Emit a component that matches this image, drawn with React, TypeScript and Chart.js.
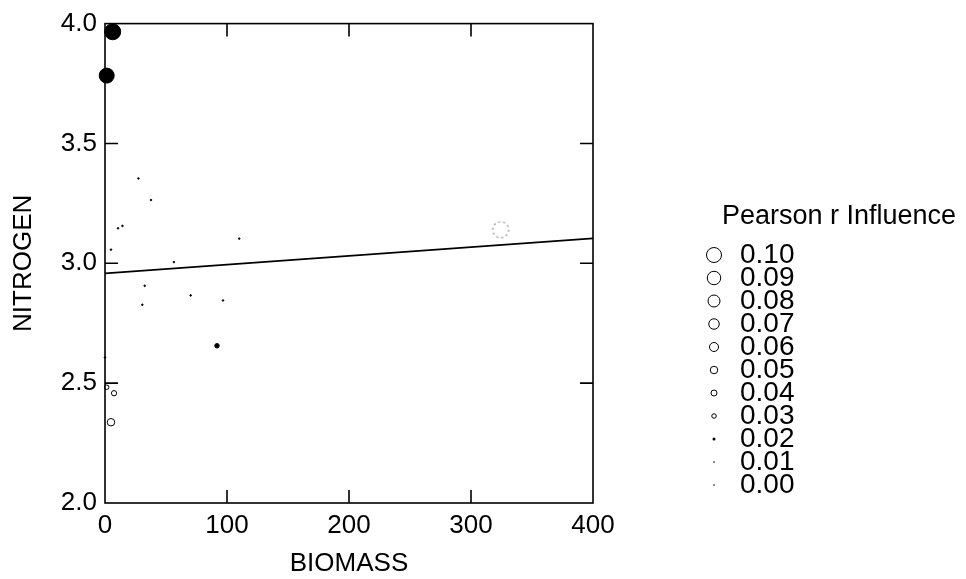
import React, { useEffect, useRef } from "react";
import { Chart, registerables } from "chart.js";

Chart.register(...registerables);

// ---- data ----
const BIOMASS = [6.3, 1.4, 27.4, 37.7, 10.7, 14.3, 4.9, 56.5, 110, 32.5, 70.2, 96.7, 30.6, 91.8, 0, 1.4, 7.4, 4.9, 324.3];
const NITROGEN = [3.966, 3.783, 3.354, 3.264, 3.146, 3.156, 3.057, 3.005, 3.103, 2.906, 2.866, 2.845, 2.827, 2.656, 2.607, 2.483, 2.458, 2.337, 3.14];
const INFLUENCE = [-0.107, -0.1, -0.01, -0.01, -0.01, -0.01, -0.005, -0.005, -0.01, -0.01, -0.01, -0.01, -0.01, -0.03, 0.01, 0.03, 0.035, 0.05, 0.12];

const FIT_X = [0, 400];
const FIT_Y = [2.958, 3.104];

const X_TICKS = [0, 100, 200, 300, 400];
const Y_TICKS = [2.0, 2.5, 3.0, 3.5, 4.0];

const LEGEND_TITLE = "Pearson r Influence";
const LEGEND_VALUES = [0.1, 0.09, 0.08, 0.07, 0.06, 0.05, 0.04, 0.03, 0.02, 0.01, 0.0];

const X_TITLE = "BIOMASS";
const Y_TITLE = "NITROGEN";

// ---- styling ----
const FONT = "'Liberation Sans', Arial, Helvetica, sans-serif";
const R_SCALE = 75;
const LEGEND_MAX = Math.max(...LEGEND_VALUES);

function radiusFor(v: number): number {
  return Math.max(0.8, Math.abs(v) * R_SCALE);
}

function dashedCircle(r: number): HTMLCanvasElement {
  const c = document.createElement("canvas");
  const s = Math.ceil(2 * r + 4);
  c.width = s;
  c.height = s;
  const g = c.getContext("2d")!;
  g.strokeStyle = "#8a8a8a";
  g.lineWidth = 1.2;
  g.setLineDash([2, 3]);
  g.beginPath();
  g.arc(s / 2, s / 2, r, 0, Math.PI * 2);
  g.stroke();
  return c;
}

const framePlugin = {
  id: "frame",
  afterDatasetsDraw(chart: any) {
    const { ctx, chartArea: a, scales } = chart;
    const x = scales.x;
    const y = scales.y;
    ctx.save();
    ctx.strokeStyle = "#000";
    ctx.lineWidth = 1.6;
    ctx.strokeRect(a.left, a.top, a.right - a.left, a.bottom - a.top);
    const L = 13;
    ctx.beginPath();
    X_TICKS.slice(1, -1).forEach((t) => {
      const px = x.getPixelForValue(t);
      ctx.moveTo(px, a.bottom);
      ctx.lineTo(px, a.bottom - L);
      ctx.moveTo(px, a.top);
      ctx.lineTo(px, a.top + L);
    });
    Y_TICKS.slice(1, -1).forEach((t) => {
      const py = y.getPixelForValue(t);
      ctx.moveTo(a.left, py);
      ctx.lineTo(a.left + L, py);
      ctx.moveTo(a.right, py);
      ctx.lineTo(a.right - L, py);
    });
    ctx.stroke();
    ctx.restore();
  },
};

const legendPlugin = {
  id: "influenceLegend",
  afterDraw(chart: any) {
    const { ctx, chartArea: a } = chart;
    const circleX = a.right + 121;
    const textX = a.right + 147;
    const titleX = a.right + 129;
    const firstY = 255;
    const step = 23;
    ctx.save();
    ctx.fillStyle = "#000";
    ctx.textBaseline = "middle";
    ctx.textAlign = "left";
    ctx.font = `27px ${FONT}`;
    ctx.fillText(LEGEND_TITLE, titleX, 217);
    ctx.font = `28px ${FONT}`;
    LEGEND_VALUES.forEach((v, i) => {
      const cy = firstY + i * step;
      const r = radiusFor(v);
      ctx.beginPath();
      if (r < 1.6) {
        ctx.arc(circleX, cy, r, 0, Math.PI * 2);
        ctx.fillStyle = "#000";
        ctx.fill();
      } else {
        ctx.arc(circleX, cy, r, 0, Math.PI * 2);
        ctx.strokeStyle = "#000";
        ctx.lineWidth = 1;
        ctx.stroke();
      }
      ctx.fillStyle = "#000";
      ctx.fillText(v.toFixed(2), textX, cy);
    });
    ctx.restore();
  },
};

export default function App() {
  const ref = useRef<HTMLCanvasElement | null>(null);

  useEffect(() => {
    if (!ref.current) return;
    const points = BIOMASS.map((b, i) => ({ x: b, y: NITROGEN[i] }));
    const fit = FIT_X.map((fx, i) => ({ x: fx, y: FIT_Y[i] }));
    const specialCache: Record<number, HTMLCanvasElement> = {};

    const chart = new Chart(ref.current, {
      type: "scatter",
      data: {
        datasets: [
          {
            label: "fit",
            data: fit,
            showLine: true,
            borderColor: "#000",
            borderWidth: 1.8,
            pointRadius: 0,
            fill: false,
          } as any,
          {
            label: "points",
            data: points,
            clip: false,
            pointRadius: (c: any) => radiusFor(INFLUENCE[c.dataIndex] ?? 0),
            pointStyle: (c: any) => {
              const v = INFLUENCE[c.dataIndex] ?? 0;
              if (v > LEGEND_MAX) {
                const i = c.dataIndex;
                if (!specialCache[i]) specialCache[i] = dashedCircle(radiusFor(v) - 1);
                return specialCache[i];
              }
              return "circle";
            },
            backgroundColor: (c: any) => {
              const v = INFLUENCE[c.dataIndex] ?? 0;
              return v < 0 || radiusFor(v) < 1.6 ? "#000" : "rgba(0,0,0,0)";
            },
            borderColor: "#000",
            borderWidth: 1,
          } as any,
        ],
      },
      options: {
        animation: false,
        responsive: false,
        events: [],
        layout: { padding: { left: 0, top: 21, right: 373, bottom: 0 } },
        plugins: {
          legend: { display: false },
          tooltip: { enabled: false },
        },
        scales: {
          x: {
            type: "linear",
            min: 0,
            max: 400,
            afterFit: (s: any) => {
              s.height = 76;
            },
            afterBuildTicks: (s: any) => {
              s.ticks = X_TICKS.map((v) => ({ value: v }));
            },
            ticks: {
              color: "#000",
              font: { family: FONT, size: 26 },
              padding: 7,
              maxRotation: 0,
              callback: (v: any) => String(v),
            },
            grid: { display: false, drawTicks: false },
            border: { display: false },
            title: {
              display: true,
              text: X_TITLE,
              color: "#000",
              font: { family: FONT, size: 26 },
              padding: { top: 0, bottom: 0 },
            },
          },
          y: {
            type: "linear",
            min: 2,
            max: 4,
            afterFit: (s: any) => {
              s.width = 105;
            },
            afterBuildTicks: (s: any) => {
              s.ticks = Y_TICKS.map((v) => ({ value: v }));
            },
            ticks: {
              color: "#000",
              font: { family: FONT, size: 26 },
              padding: 8,
              callback: (v: any) => Number(v).toFixed(1),
            },
            grid: { display: false, drawTicks: false },
            border: { display: false },
            title: {
              display: true,
              text: Y_TITLE,
              color: "#000",
              font: { family: FONT, size: 26 },
              padding: { top: 8, bottom: 0 },
            },
          },
        },
      } as any,
      plugins: [framePlugin, legendPlugin],
    });
    return () => chart.destroy();
  }, []);

  return (
    <div style={{ position: "fixed", left: 0, top: 0, width: 966, height: 579, background: "#fff" }}>
      <canvas ref={ref} width={966} height={579} style={{ display: "block", width: 966, height: 579 }} />
    </div>
  );
}
